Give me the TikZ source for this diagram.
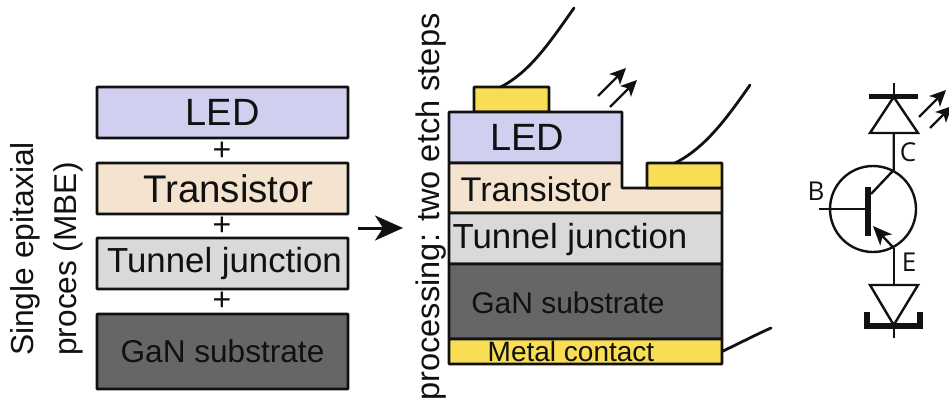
\documentclass[tikz,border=0pt]{standalone}
\usepackage{fontspec}
\setmainfont{Liberation Sans}
\newfontfamily\circuitfont{Open Sans}
\usetikzlibrary{arrows.meta,positioning,calc}
\definecolor{ink}{HTML}{111111}
\definecolor{ledc}{HTML}{D0CFF0}
\definecolor{transc}{HTML}{F3E3CF}
\definecolor{tunnelc}{HTML}{D9D9D9}
\definecolor{ganc}{HTML}{666666}
\definecolor{padc}{HTML}{F9DD55}
\tikzset{
  lab/.style={font=\fontsize{#1}{#1}\selectfont, text=ink, inner sep=0pt},
  layer/.style={draw=ink, fill=#1, line width=2.8pt, line join=round, rounded corners=0.6pt, inner sep=0pt, outer sep=0pt, anchor=north west},
  vlab/.style={lab=#1, rotate=90},
  pin/.style={font=\circuitfont\fontsize{26}{26}\selectfont, text=ink, inner sep=0pt},
  wire/.style={draw=ink, line width=2.8pt, line cap=round},
  elec/.style={draw=ink, line width=2.4pt},
  thick bar/.style={draw=ink, line width=5.5pt},
  ray/.style={-{Stealth[length=16pt,width=15pt,inset=4pt]}, draw=ink, line width=2.2pt},
  bigarr/.style={-{Stealth[length=28pt,width=25pt,inset=8pt]}, draw=ink, line width=3pt},
}
\begin{document}
\begin{tikzpicture}[x=1pt,y=-1pt]
    \useasboundingbox (0,0) rectangle (949,400);
    % epitaxial stack
    \node[layer=ledc, minimum width=251pt, minimum height=51pt, lab=38] (led) at (97,87) {LED};
    \node[layer=transc, minimum width=251pt, minimum height=51pt, lab=38.5] (trans) at (97,163) {\hspace*{11pt}Transistor};
    \node[layer=tunnelc, minimum width=251pt, minimum height=51pt, lab=34.8] (tunnel) at (97,238) {\hspace*{4pt}Tunnel junction};
    \node[layer=ganc, minimum width=251pt, minimum height=75pt, lab=31.6] (gan) at (97,314) {GaN substrate};
    \node[lab=32] (p1) at (222,151) {+};
    \node[lab=32] (p2) at (222,226) {+};
    \node[lab=32] (p3) at (222,301) {+};
    \node[vlab=31.8] (single) at (25,249) {Single epitaxial};
    \node[vlab=31.6] (proces) at (68,259) {proces (MBE)};
    % processed device
    \node[vlab=32.6] (etch) at (431,207) {processing: two etch steps};
    \node[layer=padc, minimum width=75pt, minimum height=25pt] (ledpad) at (474,87) {};
    \node[layer=ledc, minimum width=173pt, minimum height=51pt] (mesa) at (449,112) {};
    \draw[layer=transc] (449,163) -- (622,163) -- (622,188) -- (722,188) -- (722,213) -- (449,213) -- cycle;
    \node[layer=padc, minimum width=75pt, minimum height=25pt] (trpad) at (647,163) {};
    \node[layer=tunnelc, minimum width=273pt, minimum height=51pt] (tun2) at (449,213) {};
    \node[layer=ganc, minimum width=273pt, minimum height=75pt] (gan2) at (449,264) {};
    \node[layer=padc, minimum width=273pt, minimum height=25pt] (metal) at (449,339) {};
    \node[lab=38] (ledtxt) at (527,137) {LED};
    \node[lab=34.2] (trtxt) at (536,189) {Transistor};
    \node[lab=34.8] (tuntxt) at (570,239) {Tunnel junction};
    \node[lab=30] (gantxt) at (568,303) {GaN substrate};
    \node[lab=28] (mettxt) at (571,351) {Metal contact};
    \coordinate (topa) at (574,8);
    \coordinate (topb) at (750,85);
    \coordinate (topc) at (771,328);
    \draw[wire] (ledpad.131) .. controls (530,72) and (550,42) .. (topa);
    \draw[wire] (trpad.127) .. controls (705,148) and (727,118) .. (topb);
    \draw[wire] (metal.east) .. controls (738,344) and (755,335) .. (topc);
    \coordinate (ra1) at (598,96); \coordinate (ra2) at (626,68);
    \coordinate (rb1) at (610,107); \coordinate (rb2) at (637,80);
    \draw[ray] (ra1) -- (ra2);
    \draw[ray] (rb1) -- (rb2);
    \coordinate (ga) at (358,228); \coordinate (gb) at (403,228);
    \draw[bigarr] (ga) -- (gb);
    % equivalent circuit
    \node[circle, draw=ink, line width=2.4pt, minimum size=86pt, inner sep=0pt] (q) at (873,209) {};
    \coordinate (top) at (893.7,83); \coordinate (apexa) at (893.7,97);
    \coordinate (basea) at (893.7,133); \coordinate (coll) at (893.7,170);
    \coordinate (emit) at (893.7,248); \coordinate (basec) at (893.7,285);
    \coordinate (apexc) at (893.7,325); \coordinate (bot) at (893.7,338);
    \draw[elec] (top) -- (apexa);
    \draw[thick bar] (869,96.5) -- (918,96.5);
    \draw[elec, line join=miter] (apexa) -- (918,133) -- (870,133) -- cycle;
    \draw[elec] (basea) -- (coll) -- (871,194);
    \draw[thick bar] (868,187) -- (868,236);
    \coordinate (bl) at (819,209); \coordinate (br) at (866,209);
    \draw[elec] (bl) -- (br);
    \draw[elec, -{Stealth[length=19pt,width=16pt,inset=5pt]}] (emit) -- (873,226);
    \draw[elec] (emit) -- (basec);
    \draw[elec, line join=miter] (870,285) -- (918,285) -- (apexc) -- cycle;
    \draw[elec] (apexc) -- (bot);
    \draw[thick bar, line join=miter] (867,312) -- (867,326) -- (920,326) -- (920,312);
    \coordinate (rc1) at (919,117); \coordinate (rc2) at (946,90);
    \coordinate (rd1) at (930,128); \coordinate (rd2) at (952,106);
    \draw[ray] (rc1) -- (rc2);
    \draw[ray] (rd1) -- (rd2);
    \node[pin] (b) at (816,191) {B};
    \node[pin] (c) at (908,152) {C};
    \node[pin] (e) at (909,262) {E};
\end{tikzpicture}
\end{document}
